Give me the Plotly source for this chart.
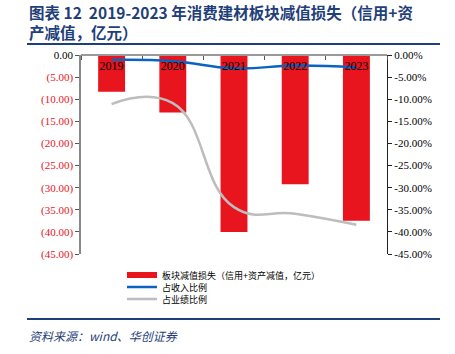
import plotly.graph_objects as go

years = ["2019", "2020", "2021", "2022", "2023"]
impairment = [-8.3, -13.0, -40.0, -29.2, -37.5]          # 亿元
rev_ratio = [-1.1, -1.4, -3.0, -2.4, -2.8]               # %
profit_ratio = [-11.1, -10.9, -34.4, -35.9, -38.4]       # %

left_vals = [0, -5, -10, -15, -20, -25, -30, -35, -40, -45]
left_text = ["0.00"] + ["<span style='color:#E8141E'>(%.2f)</span>" % abs(v) for v in left_vals[1:]]
right_vals = left_vals
right_text = ["0.00%"] + ["-%.2f%%" % abs(v) for v in right_vals[1:]]

title_lines = ["图表 12  2019-2023 年消费建材板块减值损失（信用+资", "产减值，亿元）"]
source_text = "资料来源：wind、华创证券"

W, H = 455, 354
L, R, T, B = 81, 387, 55, 254
def px(x):
    return (x - L) / (R - L)
def py(y):
    return (B - y) / (B - T)

serif = "Liberation Serif"
cjk = "Noto Sans CJK SC"
navy = "#1F3F7A"
red = "#E8141E"

fig = go.Figure()
fig.add_trace(go.Bar(
    x=years, y=impairment, name="板块减值损失（信用+资产减值，亿元）",
    marker=dict(color=red, line=dict(width=0)), width=0.44,
    showlegend=False, legendgroup="bar",
))
# legend-only entry so the bar key is drawn as a wide strip
fig.add_trace(go.Scatter(
    x=[None], y=[None], mode="lines", name="板块减值损失（信用+资产减值，亿元）",
    line=dict(color=red, width=6), legend="legend", legendgroup="bar",
))
fig.add_trace(go.Scatter(
    x=years, y=rev_ratio, name="占收入比例", yaxis="y2", mode="lines",
    line=dict(color="#0B63C1", width=2.5, shape="spline", smoothing=1.3),
    legend="legend2",
))
fig.add_trace(go.Scatter(
    x=years, y=profit_ratio, name="占业绩比例", yaxis="y2", mode="lines",
    line=dict(color="#BDBDBD", width=2.5, shape="spline", smoothing=1.3),
    legend="legend3",
))

leg_common = dict(
    xanchor="left", yanchor="middle",
    font=dict(family=cjk, size=9, color="black"),
    itemwidth=30, bgcolor="rgba(0,0,0,0)", borderwidth=0,
)

fig.update_layout(
    width=W, height=H,
    margin=dict(l=L, r=W - R, t=T, b=H - B),
    paper_bgcolor="white", plot_bgcolor="white",
    font=dict(family=serif, size=11, color="black"),
    showlegend=True,
    xaxis=dict(
        anchor="free", position=1, side="bottom", tickson="boundaries",
        ticks="outside", ticklen=4, tickcolor="#555555",
        showline=True, linecolor="#999999", linewidth=1.5,
        showgrid=False, tickfont=dict(family=serif, size=12, color="black"),
        fixedrange=True,
    ),
    yaxis=dict(
        range=[-45, 0], tickvals=left_vals, ticktext=left_text,
        showgrid=False, zeroline=False, showline=True,
        linecolor="#888888", linewidth=1.5, ticks="outside", ticklen=4,
        tickcolor="#555555", tickfont=dict(family=serif, size=11, color="black"),
    ),
    yaxis2=dict(
        range=[-45, 0], tickvals=right_vals, ticktext=right_text,
        overlaying="y", side="right", showgrid=False, zeroline=False,
        showline=True, linecolor="#222222", linewidth=1.2, ticks="outside",
        ticklen=4, tickcolor="#222222",
        tickfont=dict(family=serif, size=11, color="black"),
    ),
    legend=dict(x=px(122), y=py(275), **leg_common),
    legend2=dict(x=px(122), y=py(287), **leg_common),
    legend3=dict(x=px(122), y=py(299), **leg_common),
    shapes=[
        dict(type="line", xref="paper", yref="paper", x0=px(27), x1=px(440),
             y0=py(44), y1=py(44), line=dict(color=navy, width=2)),
        dict(type="line", xref="paper", yref="paper", x0=px(27), x1=px(440),
             y0=py(319), y1=py(319), line=dict(color=navy, width=2)),
    ],
    annotations=[
        dict(xref="paper", yref="paper", x=px(27), y=py(12), xanchor="left",
             yanchor="middle", showarrow=False, align="left",
             text="<b>%s</b>" % title_lines[0],
             font=dict(family=cjk, size=15.5, color=navy)),
        dict(xref="paper", yref="paper", x=px(27), y=py(32), xanchor="left",
             yanchor="middle", showarrow=False, align="left",
             text="<b>%s</b>" % title_lines[1],
             font=dict(family=cjk, size=15.5, color=navy)),
        dict(xref="paper", yref="paper", x=px(27), y=py(335), xanchor="left",
             yanchor="middle", showarrow=False, align="left",
             text="<i>%s</i>" % source_text,
             font=dict(family=cjk, size=12, color=navy)),
    ],
)

fig.write_html("out.html")
